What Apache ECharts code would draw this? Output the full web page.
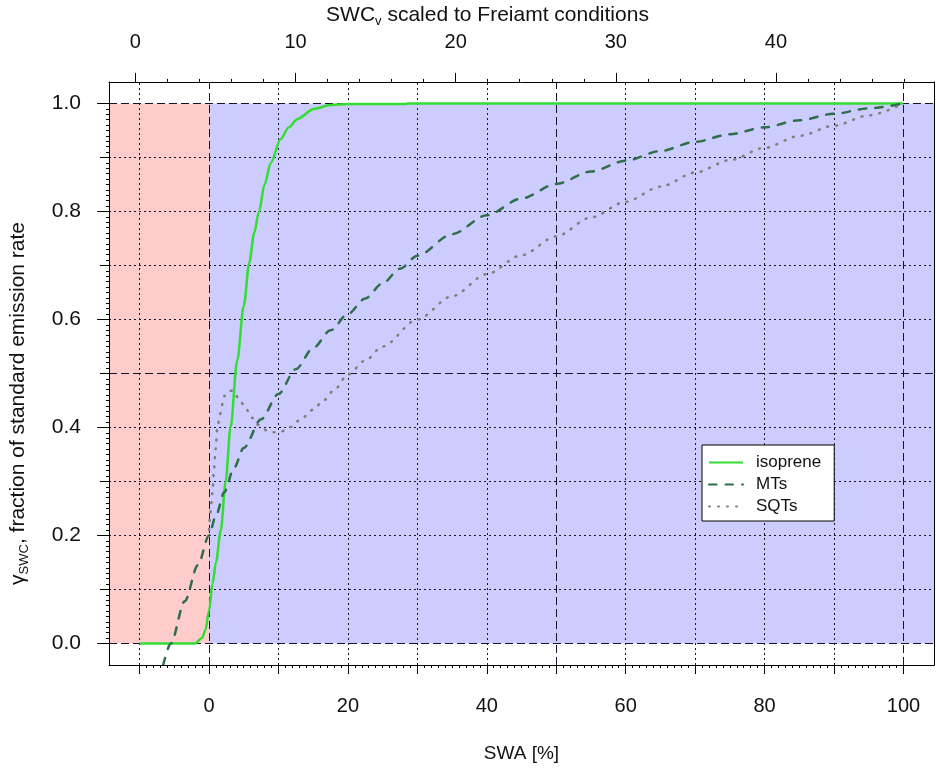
<!DOCTYPE html>
<html><head><meta charset="utf-8">
<script src="https://cdn.jsdelivr.net/npm/echarts@6/dist/echarts.min.js"></script>
<style>html,body{margin:0;padding:0;background:#fff}#c{width:936px;height:771px}</style>
</head><body><div id="c"></div>
<script>
// ---- data ----
const isopreneX = [-10, -2, -1, -0.5, 0, 0.5, 1, 1.7, 2.4, 3.1, 4.07, 5, 5.8, 6.5, 7.2, 8, 8.9, 10.3, 11.5, 12.7, 15.1, 17.5, 20, 28.3, 28.6, 100];
const isopreneY = [0, 0, 0.01, 0.025, 0.06, 0.11, 0.15, 0.21, 0.30, 0.40, 0.525, 0.625, 0.705, 0.76, 0.80, 0.85, 0.89, 0.934, 0.956, 0.971, 0.99, 0.997, 0.999, 0.999, 1.0, 1.0];

const mtX = [-6.6, -5.5, -3.5, -1.6, 0, 1, 2.2, 3.6, 5, 7.5, 10, 12.5, 15, 17.5, 20, 22.5, 25, 27.5, 30, 35, 40, 45, 50, 55, 60, 65, 70, 75, 80, 85, 90, 95, 100];
const mtY = [-0.04, 0.0, 0.078, 0.145, 0.2, 0.237, 0.28, 0.325, 0.362, 0.415, 0.462, 0.508, 0.547, 0.58, 0.61, 0.639, 0.667, 0.694, 0.718, 0.758, 0.793, 0.824, 0.851, 0.874, 0.894, 0.912, 0.929, 0.943, 0.956, 0.969, 0.981, 0.991, 1.0];

const sqtX = [0, 0.15, 0.35, 0.5, 0.7, 0.95, 1.2, 1.6, 2.2, 3.0, 3.5, 4.3, 5.3, 6.2, 7.0, 8.4, 9.5, 10.5, 11.8, 13.2, 15, 16.5, 18, 20, 22.5, 25, 30, 35, 40, 45, 50, 55, 60, 65, 70, 75, 80, 85, 90, 95, 100];
const sqtY = [0.21, 0.235, 0.26, 0.28, 0.32, 0.36, 0.398, 0.425, 0.458, 0.468, 0.468, 0.453, 0.435, 0.418, 0.405, 0.394, 0.391, 0.393, 0.401, 0.415, 0.433, 0.45, 0.469, 0.498, 0.524, 0.55, 0.6, 0.643, 0.684, 0.719, 0.754, 0.789, 0.818, 0.846, 0.872, 0.895, 0.918, 0.94, 0.959, 0.978, 1.0];

const seriesNames = ['isoprene', 'MTs', 'SQTs'];

// ---- ticks / labels ----
const bottomTickValues = [-10, 0, 10, 20, 30, 40, 50, 60, 70, 80, 90, 100];
const bottomLabelValues = [0, 20, 40, 60, 80, 100];
const topLabelValues = [0, 10, 20, 30, 40];
const leftLabelValues = [0, 0.2, 0.4, 0.6, 0.8, 1.0];
const leftOddTickValues = [0.1, 0.3, 0.5, 0.7, 0.9];
const vGridDotted = [-10, 10, 20, 30, 40, 60, 70, 80, 90];
const vGridDashed = [0, 50, 100];
const hGridDotted = [0.1, 0.2, 0.3, 0.4, 0.6, 0.7, 0.8, 0.9];
const hGridDashed = [0, 0.5, 1.0];

// axis ranges (R style 4% extension)
const xMin = -14.4, xMax = 104.4, yMin = -0.04, yMax = 1.04;
const topMin = -1.65, topMax = 49.87;

function seq(a, b, s) { const out = []; const n = Math.round((b - a) / s); for (let i = 0; i <= n; i++) out.push(+(a + i * s).toFixed(4)); return out; }
const bottomMinor = seq(-10, 100, 1);
const topMinor = seq(0, 48, 2);
const leftMinor = seq(0, 1, 0.01);

function pairs(xs, ys) { return xs.map((x, i) => [x, ys[i]]); }

const FONT = "'Liberation Sans', Arial, sans-serif";
const TXT = '#111111';
const gridDot = { type: [2, 3], color: '#15152a', width: 1 };
const gridDash = { type: [8, 4], color: '#15152a', width: 1 };

const chart = echarts.init(document.getElementById('c'), null, { renderer: 'canvas' });
const hidden = { show: false };
const noLine = { show: false, onZero: false };
chart.setOption({
  animation: false,
  backgroundColor: '#ffffff',
  textStyle: { fontFamily: FONT },
  grid: { left: 108, right: 2, top: 79, bottom: 106, show: false },
  xAxis: [
    { // bottom main
      type: 'value', position: 'bottom', min: xMin, max: xMax, z: 10,
      axisLine: { show: true, onZero: false, lineStyle: { color: '#000', width: 1 } },
      axisTick: { show: true, customValues: bottomTickValues, length: 9, lineStyle: { color: '#000' } },
      axisLabel: { show: true, customValues: bottomLabelValues, margin: 31, fontSize: 20, color: TXT, fontFamily: FONT },
      splitLine: hidden,
      name: 'SWA [%]', nameLocation: 'middle', nameGap: 79,
      nameTextStyle: { fontSize: 19, color: TXT, fontFamily: FONT }
    },
    { // bottom minor
      type: 'value', position: 'bottom', min: xMin, max: xMax, z: 10,
      axisLine: noLine,
      axisTick: { show: true, customValues: bottomMinor, length: 3, lineStyle: { color: '#000' } },
      axisLabel: hidden, splitLine: hidden
    },
    { // top main
      type: 'value', position: 'top', min: topMin, max: topMax, z: 10,
      axisLine: { show: true, onZero: false, lineStyle: { color: '#000', width: 1 } },
      axisTick: { show: true, customValues: topLabelValues, length: 9, lineStyle: { color: '#000' } },
      axisLabel: { show: true, customValues: topLabelValues, margin: 29, fontSize: 20, color: TXT, fontFamily: FONT },
      splitLine: hidden,
      name: 'SWC{sub|v} scaled to Freiamt conditions', nameLocation: 'middle', nameGap: 51,
      nameTextStyle: { fontSize: 21, color: TXT, fontFamily: FONT, padding: [0, 68, 0, 0],
        rich: { sub: { fontSize: 13, color: TXT, fontFamily: FONT, padding: [12, 0, 0, 0] } } }
    },
    { // top minor
      type: 'value', position: 'top', min: topMin, max: topMax, z: 10,
      axisLine: noLine,
      axisTick: { show: true, customValues: topMinor, length: 3, lineStyle: { color: '#000' } },
      axisLabel: hidden, splitLine: hidden
    }
  ],
  yAxis: [
    { // left main
      type: 'value', position: 'left', min: yMin, max: yMax, z: 10,
      axisLine: { show: true, onZero: false, lineStyle: { color: '#000', width: 1 } },
      axisTick: { show: true, customValues: leftLabelValues, length: 12, lineStyle: { color: '#000' } },
      axisLabel: { show: true, customValues: leftLabelValues, margin: 28, fontSize: 21, color: TXT, fontFamily: FONT,
        formatter: v => Number(v).toFixed(1) },
      splitLine: hidden,
      name: 'γ{sub|SWC}, fraction of standard emission rate', nameLocation: 'middle', nameGap: 78, nameRotate: 90,
      nameTextStyle: { fontSize: 21, color: TXT, fontFamily: FONT, padding: [0, 60, 0, 0],
        rich: { sub: { fontSize: 13, color: TXT, fontFamily: FONT, padding: [12, 0, 0, 0] } } }
    },
    { // left odd ticks
      type: 'value', position: 'left', min: yMin, max: yMax, z: 10,
      axisLine: noLine,
      axisTick: { show: true, customValues: leftOddTickValues, length: 9, lineStyle: { color: '#000' } },
      axisLabel: hidden, splitLine: hidden
    },
    { // left minor
      type: 'value', position: 'left', min: yMin, max: yMax, z: 10,
      axisLine: noLine,
      axisTick: { show: true, customValues: leftMinor, length: 3, lineStyle: { color: '#000' } },
      axisLabel: hidden, splitLine: hidden
    },
    { // right frame
      type: 'value', position: 'right', min: yMin, max: yMax, z: 10,
      axisLine: { show: true, onZero: false, lineStyle: { color: '#000', width: 1 } },
      axisTick: hidden, axisLabel: hidden, splitLine: hidden
    }
  ],
  legend: {
    data: seriesNames, orient: 'vertical', left: 702, top: 445,
    itemWidth: 34, itemHeight: 14, itemGap: 5,
    padding: [9, 13, 6, 6],
    itemStyle: { opacity: 0 },
    backgroundColor: '#ffffff', borderColor: '#000', borderWidth: 1, borderRadius: 0,
    textStyle: { fontSize: 17, lineHeight: 16, color: TXT, fontFamily: FONT, padding: [0, 0, 0, 8] },
    selectedMode: false
  },
  series: [
    {
      name: '_bg', type: 'line', data: [], silent: true, z: 1,
      markArea: {
        silent: true, z: 1,
        data: [
          [{ xAxis: xMin, yAxis: 0, itemStyle: { color: '#FFCCCC' } }, { xAxis: 0, yAxis: 1 }],
          [{ xAxis: 0, yAxis: 0, itemStyle: { color: '#CCCCFF' } }, { xAxis: xMax, yAxis: 1 }]
        ]
      },
      markLine: {
        silent: true, z: 2, symbol: ['none', 'none'], label: { show: false }, animation: false,
        data: [
          ...vGridDotted.map(v => ({ xAxis: v, lineStyle: gridDot })),
          ...vGridDashed.map(v => ({ xAxis: v, lineStyle: gridDash })),
          ...hGridDotted.map(v => ({ yAxis: v, lineStyle: gridDot })),
          ...hGridDashed.map(v => ({ yAxis: v, lineStyle: gridDash }))
        ]
      }
    },
    {
      name: 'isoprene', type: 'line', z: 5, data: pairs(isopreneX, isopreneY),
      showSymbol: false, symbol: 'none', smooth: 0.3, smoothMonotone: 'x',
      lineStyle: { color: '#33dd33', width: 2.5 }, itemStyle: { color: '#33dd33' }
    },
    {
      name: 'MTs', type: 'line', z: 5, data: pairs(mtX, mtY),
      showSymbol: false, symbol: 'none', smooth: 0.3, smoothMonotone: 'x',
      lineStyle: { color: '#2e6e4a', width: 2.5, type: [7.5, 9], cap: 'round' }, itemStyle: { color: '#2e6e4a' }
    },
    {
      name: 'SQTs', type: 'line', z: 5, data: pairs(sqtX, sqtY),
      showSymbol: false, symbol: 'none', smooth: 0.3, smoothMonotone: 'x',
      lineStyle: { color: '#808078', width: 2.5, type: [1, 8], cap: 'round' }, itemStyle: { color: '#808078' }
    }
  ]
});
</script>
</body></html>
